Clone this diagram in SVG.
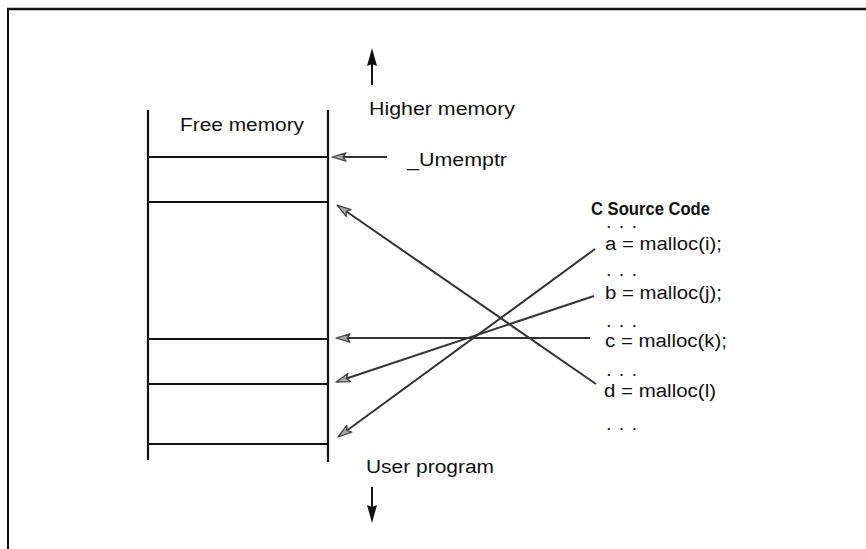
<svg xmlns="http://www.w3.org/2000/svg" width="866" height="549" viewBox="0 0 866 549">
<style>
text{font-family:"Liberation Sans",Arial,Helvetica,sans-serif;fill:#111;font-size:18px}
.bold{font-weight:bold}
.dots{font-size:13px;font-weight:bold}
.mem{stroke:#111;stroke-width:2.2;fill:none}
.conn{stroke:#333;stroke-width:2;fill:none;marker-end:url(#ah)}
.dir{stroke:#111;stroke-width:2;fill:none;marker-end:url(#bh)}
.frame{stroke:#111;fill:none}
</style>
<defs>
<marker id="ah" viewBox="0 0 16 10" refX="4" refY="5" markerWidth="16" markerHeight="10" orient="auto" markerUnits="userSpaceOnUse">
<path d="M15,5 L1,0.8 L4,5 L1,9.2 Z" fill="#a8a8a8" stroke="#444" stroke-width="1.3" stroke-linejoin="round"/>
</marker>
<marker id="bh" viewBox="0 0 18 10" refX="2" refY="5" markerWidth="18" markerHeight="10" orient="auto" markerUnits="userSpaceOnUse">
<path d="M18,5 L0,0 L2,5 L0,10 Z" fill="#111"/>
</marker>
</defs>
<rect width="866" height="549" fill="#fff"/>
<g id="frame">
<line class="frame" x1="7" y1="9" x2="866" y2="9" stroke-width="2.5"/>
<line class="frame" x1="8" y1="8" x2="8" y2="549" stroke-width="2"/>
</g>
<g id="memory">
<line class="mem" x1="148" y1="110" x2="148" y2="460"/>
<line class="mem" x1="328" y1="110" x2="328" y2="462"/>
<line class="mem" x1="148" y1="157" x2="328" y2="157"/>
<line class="mem" x1="148" y1="202" x2="328" y2="202"/>
<line class="mem" x1="148" y1="339" x2="328" y2="339"/>
<line class="mem" x1="148" y1="384" x2="328" y2="384"/>
<line class="mem" x1="148" y1="444" x2="328" y2="444"/>
<text x="180" y="131" textLength="124" lengthAdjust="spacingAndGlyphs">Free memory</text>
</g>
<g id="higher">
<line class="dir" x1="372" y1="85" x2="372" y2="64"/>
<text x="369" y="115" textLength="146" lengthAdjust="spacingAndGlyphs">Higher memory</text>
</g>
<g id="user">
<text x="366" y="473" textLength="128" lengthAdjust="spacingAndGlyphs">User program</text>
<line class="dir" x1="372" y1="487" x2="372" y2="507"/>
</g>
<g id="umemptr">
<text x="407" y="166" textLength="100" lengthAdjust="spacingAndGlyphs">_Umemptr</text>
</g>
<g id="source">
<text class="bold" x="591" y="215" font-size="17" textLength="119" lengthAdjust="spacingAndGlyphs">C Source Code</text>
<text class="dots" x="607" y="228" textLength="29" lengthAdjust="spacing">. . .</text>
<text x="605" y="250" textLength="117" lengthAdjust="spacingAndGlyphs">a = malloc(i);</text>
<text class="dots" x="607" y="276" textLength="29" lengthAdjust="spacing">. . .</text>
<text x="605" y="299" textLength="117" lengthAdjust="spacingAndGlyphs">b = malloc(j);</text>
<text class="dots" x="607" y="327" textLength="29" lengthAdjust="spacing">. . .</text>
<text x="605" y="347" textLength="122" lengthAdjust="spacingAndGlyphs">c = malloc(k);</text>
<text class="dots" x="607" y="376" textLength="29" lengthAdjust="spacing">. . .</text>
<text x="604" y="397" textLength="112" lengthAdjust="spacingAndGlyphs">d = malloc(l)</text>
<text class="dots" x="607" y="430" textLength="29" lengthAdjust="spacing">. . .</text>
</g>
<g id="connectors">
<line class="conn" x1="387" y1="157" x2="343" y2="157"/>
<line class="conn" x1="596" y1="384" x2="346.1" y2="211.3"/>
<line class="conn" x1="590" y1="338" x2="347" y2="338"/>
<line class="conn" x1="594" y1="296" x2="346.4" y2="378.5" stroke-width="2.6"/>
<line class="conn" x1="595" y1="249" x2="346.9" y2="430.5"/>
</g>
</svg>
